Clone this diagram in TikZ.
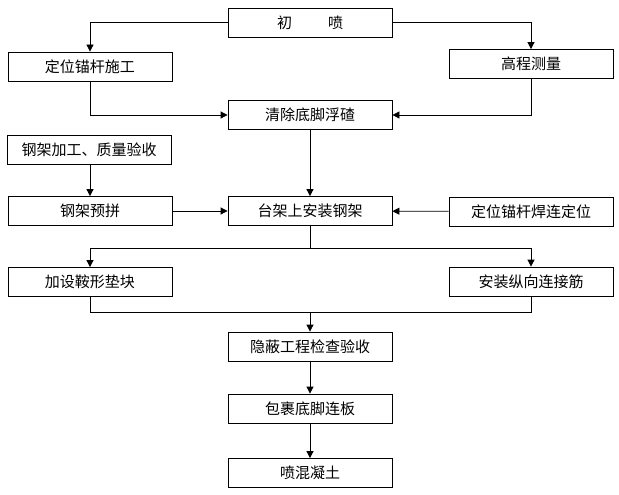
\documentclass[tikz,border=0pt]{standalone}
\usepackage{fontspec}
\setmainfont{Noto Sans CJK SC}
\usepackage{tikz}
\usetikzlibrary{arrows.meta}

\tikzset{
  stepbox/.style={draw, line width=0.8pt, minimum width=164pt, minimum height=29pt,
    inner sep=0pt, font=\fontsize{15}{18}\selectfont},
  flow/.style={line width=0.8pt, -{Triangle[length=7pt,width=7pt]}},
  plain/.style={line width=0.8pt}
}

\begin{document}
\begin{tikzpicture}[x=1pt, y=-1pt]
        \useasboundingbox (0,0) rectangle (619,495);

        \node[stepbox] (chu) at (310, 22.5) {初\hspace{36pt}喷};
        \node[stepbox] (dw) at (90, 66.5) {定位锚杆施工};
        \node[stepbox] (gc) at (531, 64) {高程测量};
        \node[stepbox] (qc) at (310, 115) {清除底脚浮碴};
        \node[stepbox] (jg) at (89, 150) {钢架加工、质量验收};
        \node[stepbox] (yp) at (90, 211) {钢架预拼};
        \node[stepbox] (tj) at (310, 211) {台架上安装钢架};
        \node[stepbox] (hl) at (531, 211.5) {定位锚杆焊连定位};
        \node[stepbox] (jd) at (90, 282) {加设鞍形垫块};
        \node[stepbox] (az) at (531, 281.5) {安装纵向连接筋};
        \node[stepbox] (yb) at (310, 346.5) {隐蔽工程检查验收};
        \node[stepbox] (bg) at (310, 408.5) {包裹底脚连板};
        \node[stepbox] (ph) at (310, 473) {喷混凝土};

        \coordinate (split) at (310, 248);
        \coordinate (merge) at (310, 312);

        \draw[flow] (chu.west) -| (dw.north);
        \draw[flow] (chu.east) -| (gc.north);
        \draw[flow] (dw.south) |- (qc.west);
        \draw[flow] (gc.south) |- (qc.east);
        \draw[flow] (qc) -- (tj);
        \draw[flow] (jg.south -| yp.north) -- (yp.north);
        \draw[flow] (yp) -- (tj);
        \draw[flow] (hl) -- (tj);
        \draw[plain] (tj.south) -- (split);
        \draw[flow] (split) -| (jd.north);
        \draw[flow] (split) -| (az.north);
        \draw[plain] (jd.south) |- (merge);
        \draw[plain] (az.south) |- (merge);
        \draw[flow] (merge) -- (yb.north);
        \draw[flow] (yb) -- (bg);
        \draw[flow] (bg) -- (ph);
\end{tikzpicture}
\end{document}
